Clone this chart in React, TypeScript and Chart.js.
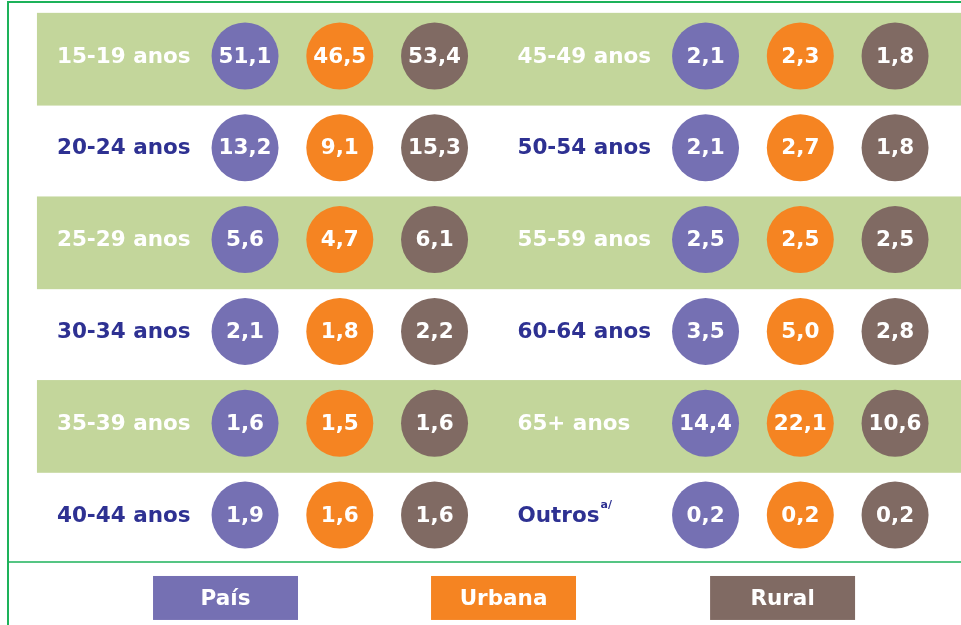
import React, { useEffect, useRef } from "react";
import { Chart, registerables } from "chart.js";

Chart.register(...registerables);

// ---- Data ----
const CATEGORIES = [
  "15-19 anos", "20-24 anos", "25-29 anos", "30-34 anos", "35-39 anos", "40-44 anos",
  "45-49 anos", "50-54 anos", "55-59 anos", "60-64 anos", "65+ anos", "Outros",
];
const FOOTNOTES = ["", "", "", "", "", "", "", "", "", "", "", "a/"];
const SERIES_NAMES = ["País", "Urbana", "Rural"];
const PAIS = [51.1, 13.2, 5.6, 2.1, 1.6, 1.9, 2.1, 2.1, 2.5, 3.5, 14.4, 0.2];
const URBANA = [46.5, 9.1, 4.7, 1.8, 1.5, 1.6, 2.3, 2.7, 2.5, 5.0, 22.1, 0.2];
const RURAL = [53.4, 15.3, 6.1, 2.2, 1.6, 1.6, 1.8, 1.8, 2.5, 2.8, 10.6, 0.2];

// ---- Styles / layout ----
const COLORS = ["#7570b3", "#f58422", "#806a63"];
const BAND_COLOR = "#c3d69b";
const DARK_TEXT = "#2e3192";
const LINE_COLOR = "#1db25a";
const FONT = '"DejaVu Sans", Verdana, sans-serif';
const ROWS_PER_COLUMN = 6;
const GROUP_OFFSETS = [0, 4.86];
const LABEL_OFFSET = -1.985;
const BAND_START = -2.196;
const X_MIN = -2.586;
const X_MAX = 7.556;
const Y_MIN = -0.61;
const Y_MAX = 6.198;
const W = 961;
const H = 625;

const fmt = (v: number) => v.toFixed(1).replace(".", ",");

const tablePlugin = {
  id: "tableDecor",
  beforeDatasetsDraw(chart: any) {
    const { ctx, scales } = chart;
    const xs = scales.x;
    const ys = scales.y;
    ctx.save();
    ctx.fillStyle = "#ffffff";
    ctx.fillRect(0, 0, chart.width, chart.height);
    // bands on even rows
    ctx.fillStyle = BAND_COLOR;
    for (let r = 0; r < ROWS_PER_COLUMN; r += 2) {
      const top = ys.getPixelForValue(r - 0.47);
      const bot = ys.getPixelForValue(r + 0.54);
      const left = xs.getPixelForValue(BAND_START);
      ctx.fillRect(left, top, chart.width - left, bot - top);
    }
    // frame lines
    ctx.strokeStyle = LINE_COLOR;
    ctx.lineWidth = 2;
    ctx.beginPath();
    ctx.moveTo(8, chart.height);
    ctx.lineTo(8, 2);
    ctx.lineTo(chart.width, 2);
    ctx.stroke();
    ctx.lineWidth = 1.6;
    const sep = ys.getPixelForValue(5.512);
    ctx.beginPath();
    ctx.moveTo(8, sep);
    ctx.lineTo(chart.width, sep);
    ctx.stroke();
    ctx.restore();
  },
  afterDatasetsDraw(chart: any) {
    const { ctx, scales } = chart;
    const xs = scales.x;
    const ys = scales.y;
    ctx.save();
    // values in circles
    ctx.font = `bold 21.5px ${FONT}`;
    ctx.fillStyle = "#ffffff";
    ctx.textAlign = "center";
    ctx.textBaseline = "middle";
    chart.data.datasets.forEach((ds: any, di: number) => {
      const meta = chart.getDatasetMeta(di);
      meta.data.forEach((el: any, i: number) => {
        ctx.fillText(fmt(ds.values[i]), el.x, el.y + 1);
      });
    });
    // row labels
    ctx.textAlign = "left";
    CATEGORIES.forEach((label, i) => {
      const row = i % ROWS_PER_COLUMN;
      const group = Math.floor(i / ROWS_PER_COLUMN);
      const x = xs.getPixelForValue(GROUP_OFFSETS[group] + LABEL_OFFSET);
      const y = ys.getPixelForValue(row);
      ctx.fillStyle = row % 2 === 0 ? "#ffffff" : DARK_TEXT;
      ctx.font = `bold 21.5px ${FONT}`;
      ctx.fillText(label, x, y + 1);
      if (FOOTNOTES[i]) {
        const w = ctx.measureText(label).width;
        ctx.font = `bold 11px ${FONT}`;
        ctx.fillText(FOOTNOTES[i], x + w + 1, y - 10);
      }
    });
    // legend boxes
    const legendCenters = [-0.206, 2.728, 5.673];
    const halfW = 0.765;
    const top = ys.getPixelForValue(5.664);
    const bot = ys.getPixelForValue(6.143);
    SERIES_NAMES.forEach((name, i) => {
      const l = xs.getPixelForValue(legendCenters[i] - halfW);
      const r = xs.getPixelForValue(legendCenters[i] + halfW);
      ctx.fillStyle = COLORS[i];
      ctx.fillRect(l, top, r - l, bot - top);
      ctx.fillStyle = "#ffffff";
      ctx.font = `bold 21.5px ${FONT}`;
      ctx.textAlign = "center";
      ctx.fillText(name, (l + r) / 2, (top + bot) / 2 + 1);
    });
    ctx.restore();
  },
};

export default function App() {
  const ref = useRef<HTMLCanvasElement | null>(null);
  useEffect(() => {
    if (!ref.current) return;
    const seriesValues = [PAIS, URBANA, RURAL];
    const datasets = seriesValues.map((vals, s) => ({
      label: SERIES_NAMES[s],
      values: vals,
      data: vals.map((_, i) => ({
        x: GROUP_OFFSETS[Math.floor(i / ROWS_PER_COLUMN)] + s,
        y: i % ROWS_PER_COLUMN,
      })),
      backgroundColor: COLORS[s],
      borderWidth: 0,
      pointRadius: 33.5,
      pointHoverRadius: 33.5,
      clip: false,
    }));
    const chart = new Chart(ref.current, {
      type: "scatter",
      data: { datasets } as any,
      options: {
        responsive: false,
        animation: false,
        events: [],
        layout: { padding: 0, autoPadding: false },
        plugins: { legend: { display: false }, tooltip: { enabled: false } },
        scales: {
          x: { type: "linear", min: X_MIN, max: X_MAX, display: false },
          y: { type: "linear", min: Y_MIN, max: Y_MAX, reverse: true, display: false },
        },
      } as any,
      plugins: [tablePlugin],
    });
    return () => chart.destroy();
  }, []);
  return (
    <div style={{ position: "fixed", left: 0, top: 0, width: W, height: H, background: "#fff" }}>
      <canvas ref={ref} width={W} height={H} style={{ display: "block", width: W, height: H }} />
    </div>
  );
}
